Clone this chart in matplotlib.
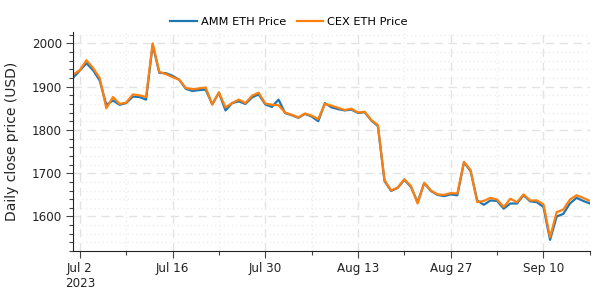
import numpy as np
import pandas as pd
import matplotlib
matplotlib.use("Agg")
import matplotlib.pyplot as plt
import matplotlib.dates as mdates
from matplotlib.ticker import MultipleLocator

dates = pd.date_range("2023-07-01", "2023-09-17", freq="D")

cex_price = [1928, 1938, 1961, 1943, 1920, 1850, 1876, 1860, 1863, 1882,
             1880, 1876, 2000, 1934, 1929, 1922, 1916, 1897, 1894, 1896,
             1898, 1859, 1887, 1852, 1862, 1870, 1862, 1879, 1886, 1861,
             1858, 1857, 1840, 1835, 1829, 1838, 1833, 1825, 1860, 1856,
             1851, 1846, 1849, 1840, 1842, 1823, 1811, 1684, 1660, 1667,
             1686, 1670, 1630, 1678, 1660, 1651, 1650, 1654, 1653, 1726,
             1707, 1633, 1636, 1643, 1639, 1622, 1641, 1633, 1651, 1637,
             1637, 1628, 1552, 1610, 1616, 1639, 1649, 1643, 1636]

amm_price = [1921, 1937, 1954, 1938, 1914, 1858, 1868, 1858, 1862, 1877,
             1876, 1870, 1997, 1932, 1931, 1925, 1916, 1895, 1890, 1892,
             1893, 1859, 1886, 1845, 1862, 1866, 1860, 1875, 1882, 1859,
             1853, 1870, 1839, 1834, 1828, 1837, 1831, 1820, 1862, 1852,
             1848, 1845, 1847, 1839, 1841, 1822, 1809, 1682, 1659, 1666,
             1685, 1668, 1633, 1677, 1659, 1650, 1647, 1651, 1649, 1725,
             1705, 1637, 1627, 1637, 1636, 1618, 1630, 1630, 1649, 1635,
             1633, 1622, 1546, 1600, 1606, 1630, 1643, 1636, 1630]

fig = plt.figure(figsize=(6, 3), dpi=100)
ax = fig.add_axes([0.122, 0.163, 0.861, 0.730])

ax.plot(dates, amm_price, color="#1f77b4", lw=1.6, label="AMM ETH Price")
ax.plot(dates, cex_price, color="#ff7f0e", lw=1.6, label="CEX ETH Price")

ax.set_xlim(dates[0], dates[-1])
ax.set_ylim(1520, 2026)

# ticks: major every two weeks, minor on the weeks between
major_days = pd.date_range("2023-07-02", "2023-09-17", freq="14D")
minor_days = pd.date_range("2023-07-09", "2023-09-17", freq="14D")
ax.set_xticks(major_days)
ax.set_xticks(minor_days, minor=True)
labels = [d.strftime("%b ") + str(d.day) for d in major_days]
labels[0] = labels[0] + "\n2023"
ax.set_xticklabels(labels, ha="center", va="top")
ax.yaxis.set_major_locator(MultipleLocator(100))
ax.yaxis.set_minor_locator(MultipleLocator(20))

ax.tick_params(axis="both", which="major", length=5, width=0.8, labelsize=8.6,
               color="#444444", labelcolor="#222222", pad=3)
ax.tick_params(axis="both", which="minor", length=3, width=0.8, color="#444444")

ax.grid(True, which="major", color="#e3e3e3", linestyle=(0, (6, 4)), lw=1)
ax.grid(True, which="minor", color="#eeeeee", linestyle=(0, (1, 2)), lw=1)
ax.set_axisbelow(True)

for s in ["top", "right"]:
    ax.spines[s].set_visible(False)
ax.spines["left"].set_color("#222222")
ax.spines["bottom"].set_color("#222222")

ax.set_ylabel("Daily close price (USD)", fontsize=10, color="#222222", labelpad=9)

fig.legend(loc="center", bbox_to_anchor=(0.482, 0.927), ncol=2, frameon=False,
           fontsize=8.2, handlelength=2.3, handletextpad=0.4, columnspacing=0.9)

fig.savefig("out.png", dpi=100)
